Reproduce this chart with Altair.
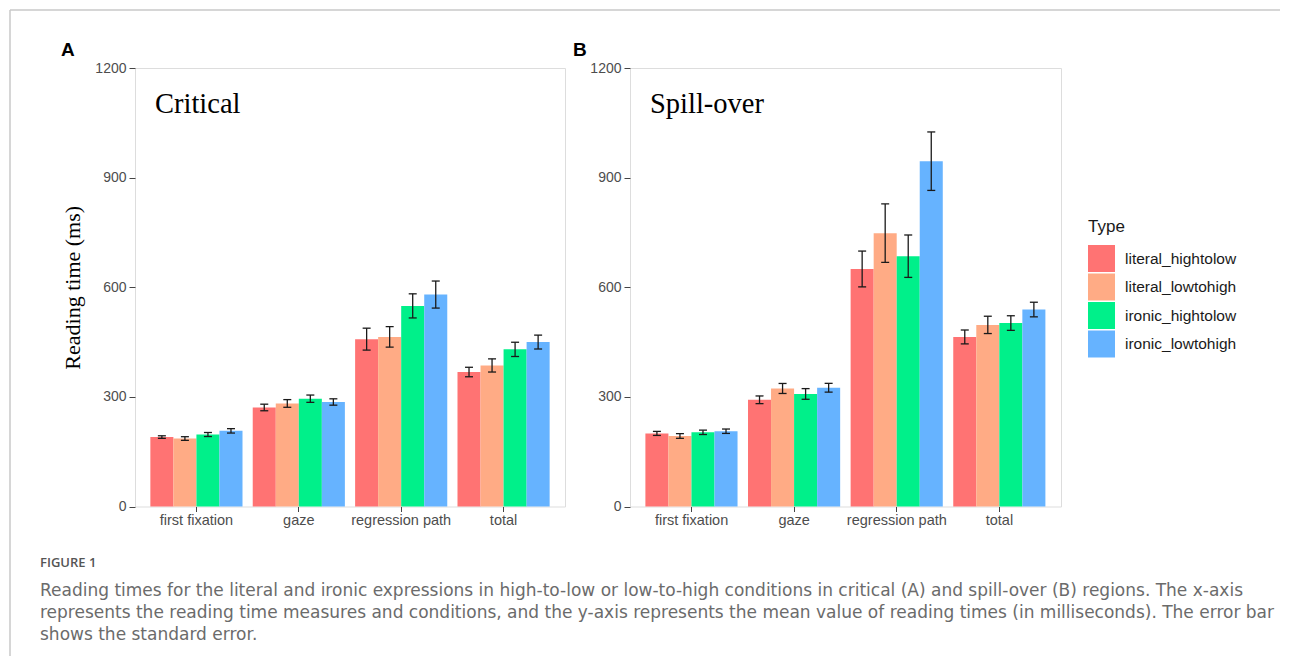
import altair as alt
import pandas as pd

# ---------------- data ----------------
measures = ["first fixation", "gaze", "regression path", "total"]
types = ["literal_hightolow", "literal_lowtohigh", "ironic_hightolow", "ironic_lowtohigh"]
colors = ["#FF7373", "#FFAB85", "#00F08A", "#66B3FF"]

# Critical region: mean reading times (ms) per measure
crit_lit_h2l = [190, 271, 458, 368]
crit_lit_l2h = [186, 282, 464, 386]
crit_iro_h2l = [197, 295, 549, 430]
crit_iro_l2h = [207, 286, 580, 450]
# Critical region: standard errors
crit_lit_h2l_se = [3.5, 9, 30, 13]
crit_lit_l2h_se = [5, 10.5, 28, 18]
crit_iro_h2l_se = [5.5, 10, 33, 19.5]
crit_iro_l2h_se = [6, 8.7, 37, 19]

# Spill-over region: mean reading times (ms)
spill_lit_h2l = [200, 292, 650, 464]
spill_lit_l2h = [193, 323, 748, 497]
spill_iro_h2l = [203, 308, 685, 502]
spill_iro_l2h = [206, 325, 945, 539]
# Spill-over region: standard errors
spill_lit_h2l_se = [5.5, 10.5, 49, 19]
spill_lit_l2h_se = [6.4, 13.7, 80, 23.7]
spill_iro_h2l_se = [6, 14.6, 58, 20]
spill_iro_l2h_se = [6, 12, 80, 20]

y_ticks = [0, 300, 600, 900, 1200]

caption_head = "FIGURE 1"
caption_lines = [
    "Reading times for the literal and ironic expressions in high-to-low or low-to-high conditions in critical (A) and spill-over (B) regions. The x-axis",
    "represents the reading time measures and conditions, and the y-axis represents the mean value of reading times (in milliseconds). The error bar",
    "shows the standard error.",
]


def build_df(means, ses):
    rows = []
    for t, m_list, s_list in zip(types, means, ses):
        for meas, m, s in zip(measures, m_list, s_list):
            rows.append({"measure": meas, "type": t, "mean": m, "se": s,
                         "lo": m - s, "hi": m + s})
    return pd.DataFrame(rows)


crit_df = build_df([crit_lit_h2l, crit_lit_l2h, crit_iro_h2l, crit_iro_l2h],
                   [crit_lit_h2l_se, crit_lit_l2h_se, crit_iro_h2l_se, crit_iro_l2h_se])
spill_df = build_df([spill_lit_h2l, spill_lit_l2h, spill_iro_h2l, spill_iro_l2h],
                    [spill_lit_h2l_se, spill_lit_l2h_se, spill_iro_h2l_se, spill_iro_l2h_se])

one = pd.DataFrame({"k": [0]})

W, H = 430, 438.5
SANS = "Liberation Sans"
SERIF = "Liberation Serif"
CAP = "DejaVu Sans"


def panel(df, region, letter, y_title, legend):
    x_enc = alt.X("measure:N", sort=measures,
                  scale=alt.Scale(paddingInner=0.1, paddingOuter=0.15),
                  axis=alt.Axis(title=None, labelAngle=0, labelFont=SANS, labelFontSize=14.5,
                                labelColor="#4d4d4d", tickColor="#444444", tickSize=5,
                                labelPadding=2, domain=False))
    xo_enc = alt.XOffset("type:N", sort=types, scale=alt.Scale(paddingInner=0, paddingOuter=0))
    y_axis = alt.Axis(values=y_ticks, format="d", title=y_title, labelFont=SANS,
                      labelFontSize=14, labelColor="#4d4d4d", tickColor="#444444", tickSize=6,
                      labelPadding=3, grid=False, domain=False, titleFont=SERIF,
                      titleFontSize=22, titleFontWeight="normal", titleColor="#000000",
                      titlePadding=10)
    y_scale = alt.Scale(domain=[0, 1200], nice=False, zero=True)

    base = alt.Chart(df)
    bars = base.mark_bar().encode(
        x=x_enc, xOffset=xo_enc,
        y=alt.Y("mean:Q", scale=y_scale, axis=y_axis),
        color=alt.Color("type:N", sort=types, scale=alt.Scale(domain=types, range=colors),
                        legend=legend),
    )
    err = base.mark_rule(color="#1a1a1a", strokeWidth=1.3).encode(
        x=alt.X("measure:N", sort=measures), xOffset=alt.XOffset("type:N", sort=types),
        y="lo:Q", y2="hi:Q")
    cap_lo = base.mark_tick(color="#1a1a1a", orient="horizontal", size=8, thickness=1.3,
                            opacity=1).encode(
        x=alt.X("measure:N", sort=measures), xOffset=alt.XOffset("type:N", sort=types),
        y="lo:Q")
    cap_hi = base.mark_tick(color="#1a1a1a", orient="horizontal", size=8, thickness=1.3,
                            opacity=1).encode(
        x=alt.X("measure:N", sort=measures), xOffset=alt.XOffset("type:N", sort=types),
        y="hi:Q")

    region_txt = alt.Chart(one).mark_text(font=SERIF, fontSize=28.5, align="left",
                                          baseline="alphabetic", color="#000000").encode(
        x=alt.value(20), y=alt.value(45), text=alt.value(region))
    letter_x = -74 if letter == "A" else -57
    letter_txt = alt.Chart(one).mark_text(font=SANS, fontSize=19, fontWeight="bold",
                                          align="left", baseline="alphabetic",
                                          color="#000000").encode(
        x=alt.value(letter_x), y=alt.value(-12), text=alt.value(letter))
    return [bars, err, cap_lo, cap_hi, region_txt, letter_txt]


layers_a = panel(crit_df, "Critical", "A", "Reading time (ms)", None)
layers_b = panel(spill_df, "Spill-over", "B", None,
                 alt.Legend(orient="none", legendX=458, legendY=151, title="Type",
                            titleFont=SANS, titleFontSize=17, titleFontWeight="normal",
                            titleColor="#1a1a1a", titlePadding=9, labelFont=SANS,
                            labelFontSize=15.5, labelColor="#1a1a1a", symbolType="square",
                            symbolSize=729, symbolStrokeWidth=0, symbolOpacity=1,
                            labelOffset=10, rowPadding=1.5))

# figure frame and caption (decoration, attached to panel A)
frame_v = alt.Chart(one).mark_rule(color="#c8c8c8", strokeWidth=1.5).encode(
    x=alt.value(-125), y=alt.value(-58), y2=alt.value(588))
frame_h = alt.Chart(one).mark_rule(color="#c8c8c8", strokeWidth=1.5).encode(
    x=alt.value(-125), x2=alt.value(1145), y=alt.value(-58))
head = alt.Chart(one).mark_text(font="Open Sans", fontSize=13, fontWeight=600, align="left",
                                baseline="alphabetic", color="#555555").encode(
    x=alt.value(-95), y=alt.value(499), text=alt.value(caption_head))
cap_marks = []
for i, line in enumerate(caption_lines):
    cap_marks.append(alt.Chart(one).mark_text(font=CAP, fontSize=17, align="left",
                                              baseline="alphabetic", color="#6b6b6b").encode(
        x=alt.value(-95), y=alt.value(528 + 22 * i), text=alt.value(line)))

panel_a = alt.layer(*layers_a, frame_v, frame_h, head, *cap_marks).properties(width=W, height=H)
panel_b = alt.layer(*layers_b).properties(width=W + 1, height=H)

chart = (
    alt.hconcat(panel_a, panel_b, spacing=65, bounds="flush")
    .resolve_legend(color="independent")
    .properties(padding=0)
    .configure_view(stroke="#c4c4c4", strokeWidth=1.2)
    .configure(background="white")
)

chart.save("out.html", embed_options={"renderer": "svg", "actions": False})
